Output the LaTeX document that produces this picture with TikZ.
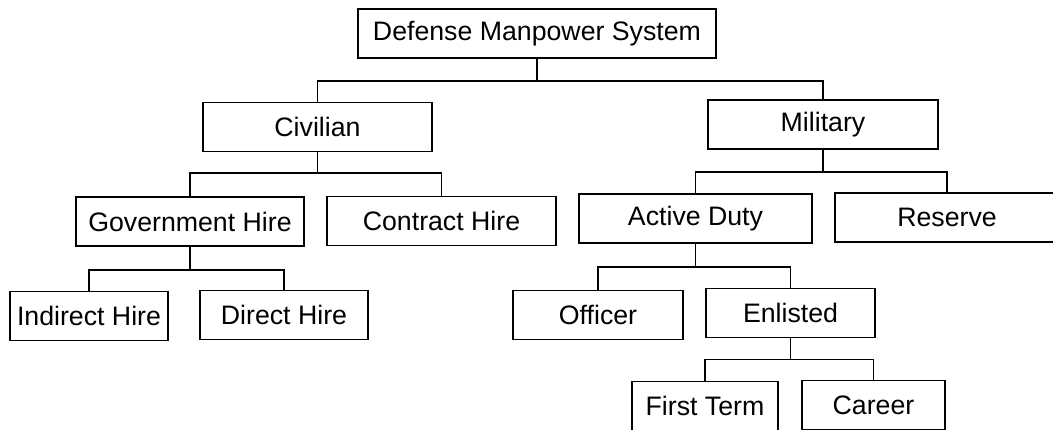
\documentclass[tikz,border=0pt]{standalone}
\usepackage{fontspec}
\setmainfont{Liberation Sans}

\begin{document}
\begin{tikzpicture}[x=0.02cm, y=-0.02cm, line width=1pt,
    unit/.style={draw, minimum width=#1*0.02cm, minimum height=0.98cm,
        inner sep=0pt, font=\fontsize{15.2}{18}\selectfont}]
    \useasboundingbox (0, 0) rectangle (1053, 429);
    \clip (0, 0) rectangle (1053, 429);

    \node[unit=358] (dms) at (537, 33.5) {Defense Manpower System};

    \node[unit=229] (civ) at (317.5, 127) {Civilian};
    \node[unit=230] (mil) at (823, 124.5) {Military};

    \node[unit=228] (gov) at (190, 221.5) {Government Hire};
    \node[unit=229] (con) at (441.5, 221) {Contract Hire};
    \node[unit=233] (act) at (695.5, 218.5) {Active Duty};
    \node[unit=224] (res) at (947, 217.5) {Reserve};

    \node[unit=158] (ind) at (89, 316) {Indirect Hire};
    \node[unit=168] (dir) at (284, 315) {Direct Hire};
    \node[unit=170] (off) at (598, 315) {Officer};
    \node[unit=169] (enl) at (790.5, 313) {Enlisted};

    \node[unit=146] (fst) at (705, 406) {First Term};
    \node[unit=143] (car) at (873.5, 405) {Career};

    \draw
        (dms.south) -- ++(0, 22) coordinate(dmsBus)
        (dmsBus) -| (civ.north)
        (dmsBus) -| (mil.north)

        (civ.south) -- ++(0, 21) coordinate(civBus)
        (civBus) -| (gov.north)
        (civBus) -| (con.north)

        (mil.south) -- ++(0, 22) coordinate(milBus)
        (milBus) -| (act.north)
        (milBus) -| (res.north)

        (gov.south) -- ++(0, 23) coordinate(govBus)
        (govBus) -| (ind.north)
        (govBus) -| (dir.north)

        (act.south) -- ++(0, 23) coordinate(actBus)
        (actBus) -| (off.north)
        (actBus) -| (enl.north)

        (enl.south) -- ++(0, 21) coordinate(enlBus)
        (enlBus) -| (fst.north)
        (enlBus) -| (car.north)
    ;
\end{tikzpicture}
\end{document}
